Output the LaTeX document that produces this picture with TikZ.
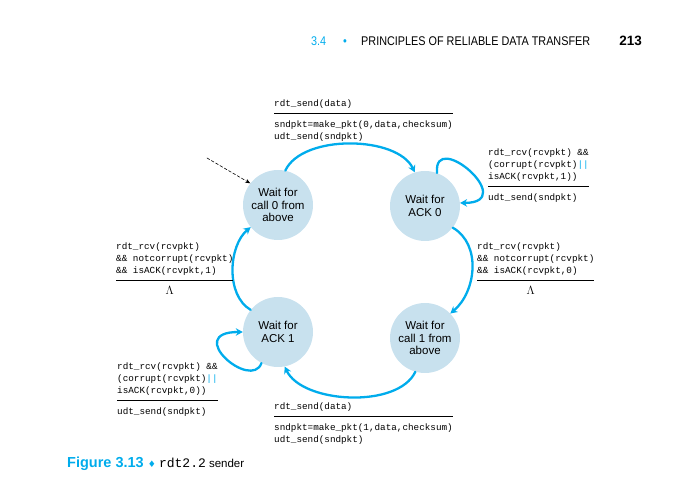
\documentclass[tikz,border=0pt]{standalone}
\usepackage{fontspec}
\setmainfont{Liberation Sans}
\setmonofont{Liberation Mono}
\newfontfamily\headfont[FakeStretch=0.86]{Liberation Sans}
\newfontfamily\symfont{DejaVu Sans}
\usetikzlibrary{arrows.meta}
\definecolor{kblue}{RGB}{0,172,236}
\definecolor{kfill}{RGB}{200,225,238}
% guard above the rule, action below it
\newcommand{\trans}[2]{\begin{tabular}[t]{@{}l@{}}#1\\[2.4pt]\hline\rule{0pt}{14pt}#2\end{tabular}}
\newcommand{\bars}{\textcolor{kblue}{||}}
\newcommand{\nop}{\hspace*{\fill}{\fontsize{11.5}{12}\selectfont$\Lambda$}\hspace*{\fill}\hspace*{10pt}}
\tikzset{
	state/.style={circle, fill=kfill, minimum size=70pt, inner sep=0pt, align=center, font=\fontsize{11.5}{12.5}\selectfont},
	lbl/.style={inner sep=0pt, anchor=base west, font=\fontsize{9.3}{12}\selectfont\ttfamily},
	move/.style={kblue, line width=2.3pt, -{Stealth[length=7pt,width=7.5pt]}}
}
\begin{document}
\begin{tikzpicture}[x=1pt, y=1pt, line join=round, line cap=round]
	\useasboundingbox (0,0) rectangle (674,492);
	% header
	\node[inner sep=0pt, anchor=base west, font=\headfont\fontsize{12.6}{14}\selectfont, text=kblue] (sec) at (311,446) {3.4};
	\node[inner sep=0pt, anchor=base, font=\headfont\fontsize{12.6}{14}\selectfont, text=kblue] (dot) at (345,446) {•};
	\node[inner sep=0pt, anchor=base west, font=\headfont\fontsize{12.6}{14}\selectfont] (title) at (361,446) {PRINCIPLES OF RELIABLE DATA TRANSFER};
	\node[inner sep=0pt, anchor=base east, font=\bfseries\fontsize{13.5}{14}\selectfont] (page) at (642,446) {213};
	% states
	\node[state] (W0) at (278,287) {Wait for\\call 0 from\\above};
	\node[state] (A0) at (425,286) {Wait for\\ACK 0};
	\node[state] (W1) at (425,154) {Wait for\\call 1 from\\above};
	\node[state] (A1) at (278,160) {Wait for\\ACK 1};
	% transitions
	\coordinate (init) at (207,334);
	\draw[dash pattern=on 3pt off 2pt, line width=0.6pt, -{Stealth[length=5pt,width=4pt]}] (init) -- (W0.142);
	\draw[move] (W0.78) to[out=65, in=115, looseness=0.8] (A0.107);
	\draw[move] (A0.70) .. controls +(95:45) and +(0:60) .. (A0.5);
	\draw[move] (A0.-38) to[out=-30, in=40] (W1.44);
	\draw[move] (W1.254) to[out=-115, in=-65, looseness=0.8] (A1.281);
	\draw[move] (A1.242) .. controls +(250:30) and +(180:60) .. (A1.180);
	\draw[move] (A1.141) to[out=150, in=-140, looseness=0.9] (W0.219);
	% labels
	\node[lbl] (t1) at (274,385) {\trans{rdt\_send(data)}{sndpkt=make\_pkt(0,data,checksum)\\udt\_send(sndpkt)}};
	\node[lbl] (t2) at (488,336) {\trans{rdt\_rcv(rcvpkt) \&\&\\(corrupt(rcvpkt)\bars\\isACK(rcvpkt,1))}{udt\_send(sndpkt)}};
	\node[lbl] (t3) at (477,242) {\trans{rdt\_rcv(rcvpkt)\\\&\& notcorrupt(rcvpkt)\\\&\& isACK(rcvpkt,0)}{\nop}};
	\node[lbl] (t4) at (274,82) {\trans{rdt\_send(data)}{sndpkt=make\_pkt(1,data,checksum)\\udt\_send(sndpkt)}};
	\node[lbl] (t5) at (117,122) {\trans{rdt\_rcv(rcvpkt) \&\&\\(corrupt(rcvpkt)\bars\\isACK(rcvpkt,0))}{udt\_send(sndpkt)}};
	\node[lbl] (t6) at (116,242) {\trans{rdt\_rcv(rcvpkt)\\\&\& notcorrupt(rcvpkt)\\\&\& isACK(rcvpkt,1)}{\nop}};
	% caption
	\node[inner sep=0pt, anchor=base west, font=\fontsize{11.5}{14}\selectfont] (cap) at (67,24) {\textcolor{kblue}{\bfseries\fontsize{14.5}{14}\selectfont Figure 3.13 {\symfont\fontsize{9}{14}\selectfont ♦}} {\ttfamily\fontsize{13}{14}\selectfont rdt2.2}\ sender};
\end{tikzpicture}
\end{document}
